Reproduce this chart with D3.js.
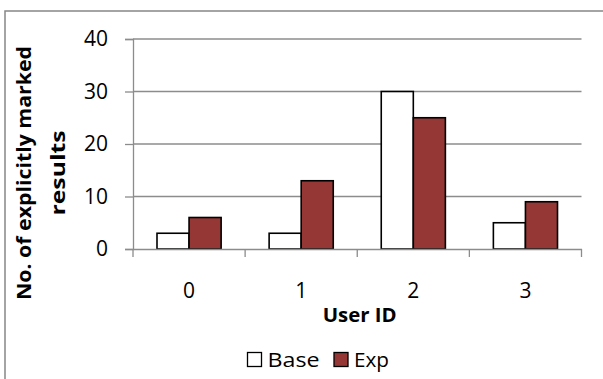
<!DOCTYPE html>
<html><head><meta charset="utf-8">
<script src="https://cdn.jsdelivr.net/npm/d3@7/dist/d3.min.js"></script>
<style>body{margin:0;background:#fff}svg{display:block}text{font-family:"Open Sans",sans-serif}</style>
</head><body><svg id="c" width="603" height="379"></svg>
<script>
const categories = ["0","1","2","3"];
const seriesNames = ["Base","Exp"];
const baseValues = [3,3,30,5];
const expValues = [6,13,25,9];
const yTicks = [0,10,20,30,40];
const colors = {Base:"#ffffff", Exp:"#953735"};

const svg = d3.select("#c");
const m = {l:133, r:581.5, t:39, b:249};
// frame
svg.append("rect").attr("x",5).attr("y",11).attr("width",640).attr("height",400)
  .attr("fill","none").attr("stroke","#878787").attr("stroke-width",1.5);

const x0 = d3.scaleBand().domain(categories).range([m.l,m.r]).paddingInner(0).paddingOuter(0);
const x1 = d3.scaleBand().domain(seriesNames).range([24, x0.bandwidth()-24]);
const y = d3.scaleLinear().domain([0,40]).range([m.b,m.t]);

// gridlines
svg.append("g").selectAll("line").data(yTicks.filter(d=>d>0)).join("line")
  .attr("x1",m.l).attr("x2",m.r).attr("y1",d=>y(d)).attr("y2",d=>y(d))
  .attr("stroke","#8c8c8c").attr("stroke-width",1.3);

// y axis
const ya = svg.append("g").attr("transform",`translate(${m.l},0)`)
  .call(d3.axisLeft(y).tickValues(yTicks).tickSize(8).tickPadding(17));
ya.select(".domain").attr("stroke","#8c8c8c").attr("stroke-width",1.3);
ya.selectAll(".tick line").attr("stroke","#8c8c8c").attr("stroke-width",1.3);
ya.selectAll("text").attr("font-size",21).attr("fill","#000").attr("font-family","Open Sans");

// bars
const data = categories.map((c,i)=>({c, vals:[{k:"Base",v:baseValues[i]},{k:"Exp",v:expValues[i]}]}));
svg.append("g").selectAll("g").data(data).join("g")
  .attr("transform",d=>`translate(${x0(d.c)},0)`)
  .selectAll("rect").data(d=>d.vals).join("rect")
  .attr("x",d=>x1(d.k)).attr("width",x1.bandwidth())
  .attr("y",d=>y(d.v)).attr("height",d=>y(0)-y(d.v))
  .attr("fill",d=>colors[d.k]).attr("stroke","#000").attr("stroke-width",1.6);

// x axis
const xa = svg.append("g").attr("transform",`translate(0,${m.b})`)
  .call(d3.axisBottom(x0).tickSize(0).tickPadding(34));
xa.select(".domain").attr("stroke","#8c8c8c").attr("stroke-width",1.3);
xa.selectAll("text").attr("font-size",21).attr("fill","#000").attr("font-family","Open Sans");
// category boundary ticks
const bounds = categories.map(c=>x0(c)).concat([m.r]);
svg.append("g").selectAll("line").data(bounds).join("line")
  .attr("x1",d=>d).attr("x2",d=>d).attr("y1",m.b).attr("y2",m.b+8)
  .attr("stroke","#8c8c8c").attr("stroke-width",1.3);

// axis titles
svg.append("text").attr("x",359.7).attr("y",321.7).attr("text-anchor","middle")
  .attr("font-size",19).attr("font-weight","bold")
  .attr("textLength",74).attr("lengthAdjust","spacingAndGlyphs").text("User ID");
const yt = svg.append("g").attr("transform","translate(0,173) rotate(-90)");
yt.append("text").attr("x",0).attr("y",31).attr("text-anchor","middle")
  .attr("font-size",20).attr("font-weight","bold")
  .attr("textLength",254).attr("lengthAdjust","spacingAndGlyphs").text("No. of explicitly marked");
yt.append("text").attr("x",0).attr("y",65).attr("text-anchor","middle")
  .attr("font-size",20).attr("font-weight","bold")
  .attr("textLength",85).attr("lengthAdjust","spacingAndGlyphs").text("results");

// legend
const lg = svg.append("g");
const lx = [247.5, 334];
const tl = [52, 35];
seriesNames.forEach((s,i)=>{
  lg.append("rect").attr("x",lx[i]).attr("y",352.5).attr("width",14).attr("height",14)
    .attr("fill",colors[s]).attr("stroke","#000").attr("stroke-width",1.3);
  lg.append("text").attr("x",lx[i]+20).attr("y",366.5).attr("font-size",20)
    .attr("textLength",tl[i]).attr("lengthAdjust","spacingAndGlyphs").text(s);
});
</script></body></html>
